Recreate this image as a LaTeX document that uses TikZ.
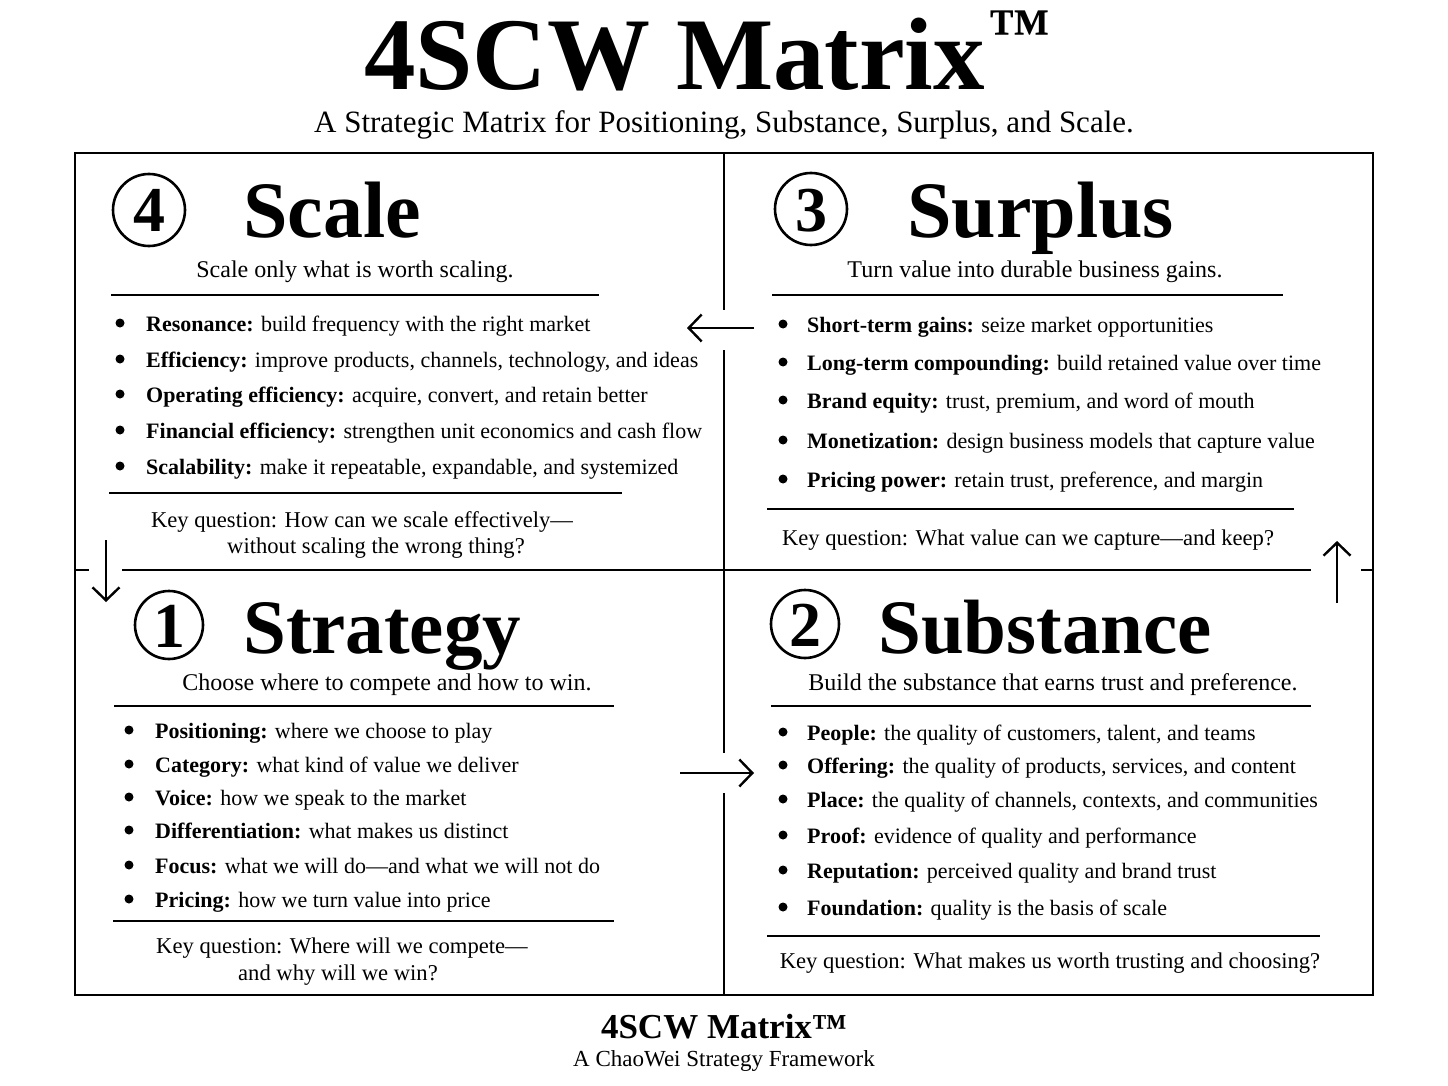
\documentclass[tikz,border=0pt]{standalone}
\usepackage{fontspec}
\setmainfont{Liberation Serif}
\usetikzlibrary{arrows.meta}
\begin{document}
\begin{tikzpicture}[x=1pt,y=-1pt,
  frame/.style={line width=2.6pt},
  rule/.style={line width=2pt},
  flow/.style={line width=2.4pt,-{Straight Barb[length=13pt,width=27pt,line width=2.4pt]}},
  numc/.style={circle,draw,line width=2.6pt,minimum size=72pt,inner sep=0pt},
  numt/.style={anchor=base,inner sep=0pt,font=\fontsize{64}{64}\selectfont\bfseries},
  head/.style={anchor=base west,inner sep=0pt,font=\fontsize{80}{80}\selectfont\bfseries},
  sub/.style={anchor=base,inner sep=0pt,font=\fontsize{24}{28}\selectfont},
  item/.style={anchor=base west,inner sep=0pt,font=\fontsize{22}{26}\selectfont},
  dot/.style={circle,fill,minimum size=9pt,inner sep=0pt},
  keyq/.style={anchor=base,inner sep=0pt,font=\fontsize{22.6}{27}\selectfont},
]
\path[use as bounding box, fill=white] (0,0) rectangle (1448,1086);

% Title
\node[anchor=base west,inner sep=0pt,font=\fontsize{103}{103}\selectfont\bfseries] (title) at (364,90) {4SCW Matrix};
\node[anchor=base west,inner sep=0pt,font=\fontsize{62}{62}\selectfont\bfseries] (tm) at (988,52) {™};
\node[anchor=base,inner sep=0pt,font=\fontsize{31}{35}\selectfont] (subtitle) at (724,133) {A Strategic Matrix for Positioning, Substance, Surplus, and Scale.};

% Frame and dividers
\draw[frame] (75,153) rectangle (1373,995);
\draw[frame] (724,153) -- (724,310);
\draw[frame] (724,350) -- (724,753);
\draw[frame] (724,793) -- (724,995);
\draw[frame] (75,570) -- (89,570);
\draw[frame] (122,570) -- (1311,570);
\draw[frame] (1361,570) -- (1373,570);

% Flow arrows
\coordinate (a34s) at (754,328); \coordinate (a34e) at (687,328);
\coordinate (a41s) at (106,540); \coordinate (a41e) at (106,602);
\coordinate (a12s) at (680,773); \coordinate (a12e) at (754,773);
\coordinate (a23s) at (1337,603); \coordinate (a23e) at (1337,541);
\draw[flow] (a34s) -- (a34e);
\draw[flow] (a41s) -- (a41e);
\draw[flow] (a12s) -- (a12e);
\draw[flow] (a23s) -- (a23e);

% ---------- Quadrant 4: Scale ----------
\node[numc] (n4) at (149,210) {};
\node[numt] (n4t) at (149,232) {4};
\node[head] (h4) at (243,237) {Scale};
\node[sub] (s4) at (355,277) {Scale only what is worth scaling.};
\draw[rule] (111,295) -- (599,295);
\node[dot] (d4a) at (120,323) {};
\node[dot] (d4b) at (120,359) {};
\node[dot] (d4c) at (120,394) {};
\node[dot] (d4d) at (120,430) {};
\node[dot] (d4e) at (120,466) {};
\node[item] (t4a) at (146,331) {\textbf{Resonance:} build frequency with the right market};
\node[item] (t4b) at (146,367) {\textbf{Efficiency:} improve products, channels, technology, and ideas};
\node[item] (t4c) at (146,402) {\textbf{Operating efficiency:} acquire, convert, and retain better};
\node[item] (t4d) at (146,438) {\textbf{Financial efficiency:} strengthen unit economics and cash flow};
\node[item] (t4e) at (146,474) {\textbf{Scalability:} make it repeatable, expandable, and systemized};
\draw[rule] (109,493) -- (622,493);
\node[keyq] (k4a) at (362,527) {Key question: How can we scale effectively—};
\node[keyq] (k4b) at (376,553) {without scaling the wrong thing?};

% ---------- Quadrant 3: Surplus ----------
\node[numc] (n3) at (811,209) {};
\node[numt] (n3t) at (811,231) {3};
\node[head] (h3) at (907,237) {Surplus};
\node[sub] (s3) at (1035,277) {Turn value into durable business gains.};
\draw[rule] (772,295) -- (1283,295);
\node[dot] (d3a) at (783,324) {};
\node[dot] (d3b) at (783,362) {};
\node[dot] (d3c) at (783,400) {};
\node[dot] (d3d) at (783,440) {};
\node[dot] (d3e) at (783,479) {};
\node[item] (t3a) at (807,332) {\textbf{Short-term gains:} seize market opportunities};
\node[item] (t3b) at (807,370) {\textbf{Long-term compounding:} build retained value over time};
\node[item] (t3c) at (807,408) {\textbf{Brand equity:} trust, premium, and word of mouth};
\node[item] (t3d) at (807,448) {\textbf{Monetization:} design business models that capture value};
\node[item] (t3e) at (807,487) {\textbf{Pricing power:} retain trust, preference, and margin};
\draw[rule] (767,509) -- (1294,509);
\node[keyq] (k3) at (1028,545) {Key question: What value can we capture—and keep?};

% ---------- Quadrant 1: Strategy ----------
\node[numc,minimum size=68pt] (n1) at (169,625) {};
\node[numt] (n1t) at (169,647) {1};
\node[head,font=\fontsize{77}{77}\selectfont\bfseries] (h1) at (243,653) {Strategy};
\node[sub] (s1) at (387,690) {Choose where to compete and how to win.};
\draw[rule] (114,706) -- (614,706);
\node[dot] (d1a) at (129,730) {};
\node[dot] (d1b) at (129,764) {};
\node[dot] (d1c) at (129,797) {};
\node[dot] (d1d) at (129,830) {};
\node[dot] (d1e) at (129,865) {};
\node[dot] (d1f) at (129,899) {};
\node[item] (t1a) at (155,738) {\textbf{Positioning:} where we choose to play};
\node[item] (t1b) at (155,772) {\textbf{Category:} what kind of value we deliver};
\node[item] (t1c) at (155,805) {\textbf{Voice:} how we speak to the market};
\node[item] (t1d) at (155,838) {\textbf{Differentiation:} what makes us distinct};
\node[item] (t1e) at (155,873) {\textbf{Focus:} what we will do—and what we will not do};
\node[item] (t1f) at (155,907) {\textbf{Pricing:} how we turn value into price};
\draw[rule] (113,921) -- (614,921);
\node[keyq] (k1a) at (342,953) {Key question: Where will we compete—};
\node[keyq] (k1b) at (338,980) {and why will we win?};

% ---------- Quadrant 2: Substance ----------
\node[numc,minimum size=68pt] (n2) at (805,624) {};
\node[numt] (n2t) at (805,646) {2};
\node[head,font=\fontsize{77}{77}\selectfont\bfseries] (h2) at (878,653) {Substance};
\node[sub] (s2) at (1053,690) {Build the substance that earns trust and preference.};
\draw[rule] (771,706) -- (1311,706);
\node[dot] (d2a) at (783,732) {};
\node[dot] (d2b) at (783,765) {};
\node[dot] (d2c) at (783,799) {};
\node[dot] (d2d) at (783,835) {};
\node[dot] (d2e) at (783,870) {};
\node[dot] (d2f) at (783,907) {};
\node[item] (t2a) at (807,740) {\textbf{People:} the quality of customers, talent, and teams};
\node[item] (t2b) at (807,773) {\textbf{Offering:} the quality of products, services, and content};
\node[item] (t2c) at (807,807) {\textbf{Place:} the quality of channels, contexts, and communities};
\node[item] (t2d) at (807,843) {\textbf{Proof:} evidence of quality and performance};
\node[item] (t2e) at (807,878) {\textbf{Reputation:} perceived quality and brand trust};
\node[item] (t2f) at (807,915) {\textbf{Foundation:} quality is the basis of scale};
\draw[rule] (767,936) -- (1320,936);
\node[keyq] (k2) at (1050,968) {Key question: What makes us worth trusting and choosing?};

% Footer
\node[anchor=base,inner sep=0pt,font=\fontsize{35}{38}\selectfont\bfseries] (ftitle) at (724,1038) {4SCW Matrix™};
\node[anchor=base,inner sep=0pt,font=\fontsize{23}{27}\selectfont] (fsub) at (724,1066) {A ChaoWei Strategy Framework};
\end{tikzpicture}
\end{document}
